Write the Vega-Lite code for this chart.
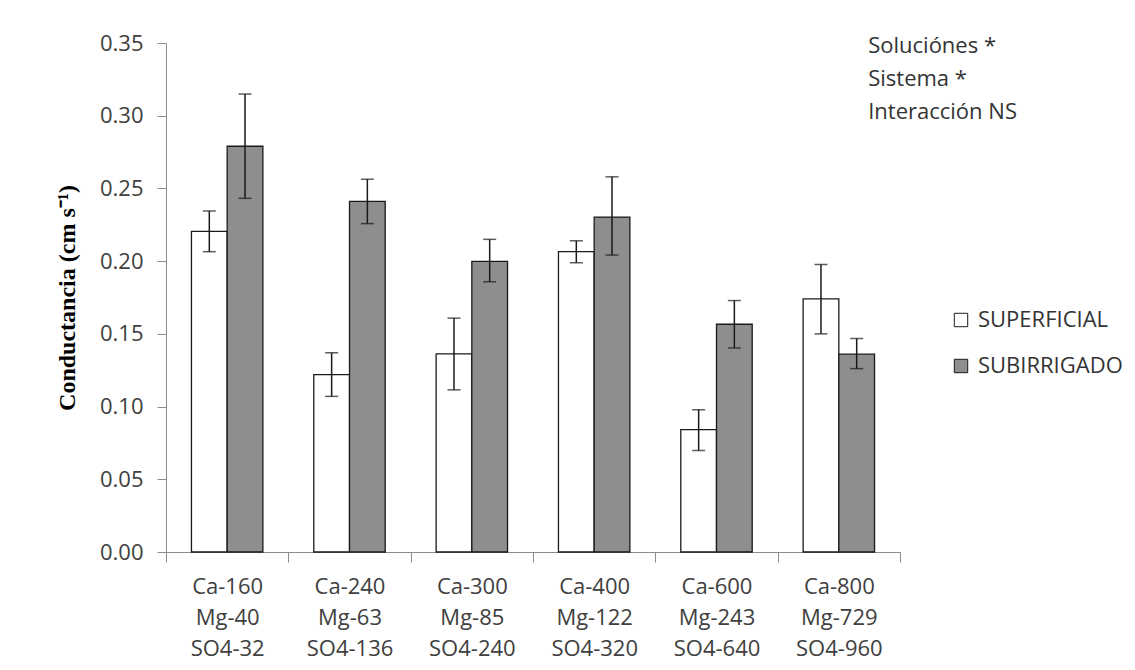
{
  "$schema": "https://vega.github.io/schema/vega-lite/v6.json",
  "autosize": {"type": "none"},
  "padding": {"left": 166, "top": 43, "right": 235, "bottom": 118},
  "width": 734,
  "height": 509,
  "background": "white",
  "config": {"view": {"stroke": null}, "font": "Open Sans"},
  "data": {
    "values": [
      {"solucion": "Ca-160|Mg-40|SO4-32", "sistema": "SUPERFICIAL", "valor": 0.2205, "min": 0.2065, "max": 0.2345},
      {"solucion": "Ca-160|Mg-40|SO4-32", "sistema": "SUBIRRIGADO", "valor": 0.279, "min": 0.2432, "max": 0.3149},
      {"solucion": "Ca-240|Mg-63|SO4-136", "sistema": "SUPERFICIAL", "valor": 0.122, "min": 0.107, "max": 0.137},
      {"solucion": "Ca-240|Mg-63|SO4-136", "sistema": "SUBIRRIGADO", "valor": 0.2411, "min": 0.2258, "max": 0.2563},
      {"solucion": "Ca-300|Mg-85|SO4-240", "sistema": "SUPERFICIAL", "valor": 0.1362, "min": 0.1115, "max": 0.1608},
      {"solucion": "Ca-300|Mg-85|SO4-240", "sistema": "SUBIRRIGADO", "valor": 0.1998, "min": 0.1858, "max": 0.215},
      {"solucion": "Ca-400|Mg-122|SO4-320", "sistema": "SUPERFICIAL", "valor": 0.2065, "min": 0.1989, "max": 0.214},
      {"solucion": "Ca-400|Mg-122|SO4-320", "sistema": "SUBIRRIGADO", "valor": 0.2303, "min": 0.2042, "max": 0.258},
      {"solucion": "Ca-600|Mg-243|SO4-640", "sistema": "SUPERFICIAL", "valor": 0.0841, "min": 0.0698, "max": 0.0978},
      {"solucion": "Ca-600|Mg-243|SO4-640", "sistema": "SUBIRRIGADO", "valor": 0.1566, "min": 0.1403, "max": 0.1729},
      {"solucion": "Ca-800|Mg-729|SO4-960", "sistema": "SUPERFICIAL", "valor": 0.1741, "min": 0.15, "max": 0.1977},
      {"solucion": "Ca-800|Mg-729|SO4-960", "sistema": "SUBIRRIGADO", "valor": 0.136, "min": 0.1261, "max": 0.1468}
    ]
  },
  "encoding": {
    "x": {
      "field": "solucion", "type": "nominal", "sort": null,
      "scale": {"paddingInner": 0, "paddingOuter": 0},
      "axis": {
        "title": null, "labelAngle": 0,
        "labelExpr": "split(datum.label, '|')",
        "labelFontSize": 22, "labelLineHeight": 31, "labelColor": "#404040",
        "tickBand": "extent", "tickSize": 10,
        "domainColor": "#8c8c8c", "tickColor": "#8c8c8c", "labelPadding": 14
      }
    }
  },
  "layer": [
    {
      "mark": {"type": "bar", "stroke": "#1a1a1a", "strokeWidth": 1.3},
      "encoding": {
        "xOffset": {"field": "sistema", "type": "nominal", "sort": ["SUPERFICIAL", "SUBIRRIGADO"], "scale": {"paddingInner": 0, "paddingOuter": 0.713}},
        "y": {
          "field": "valor", "type": "quantitative",
          "scale": {"domain": [0, 0.35], "nice": false},
          "axis": {
            "values": [0, 0.05, 0.1, 0.15, 0.2, 0.25, 0.3, 0.35],
            "format": ".2f", "grid": false,
            "domainColor": "#8c8c8c", "tickColor": "#8c8c8c", "tickSize": 9,
            "labelFontSize": 22, "labelColor": "#404040", "labelPadding": 14,
            "title": "Conductancia (cm s⁻¹)",
            "titleFont": "Liberation Serif", "titleFontSize": 24, "titleFontWeight": "bold",
            "titleColor": "#000000", "titlePadding": 20
          }
        },
        "fill": {
          "field": "sistema", "type": "nominal",
          "scale": {"domain": ["SUPERFICIAL", "SUBIRRIGADO"], "range": ["#ffffff", "#8e8e8e"]},
          "legend": {
            "title": null, "orient": "none", "legendX": 784, "legendY": 266, "padding": 0,
            "symbolType": "square", "symbolSize": 180,
            "symbolStrokeColor": "#1a1a1a", "symbolStrokeWidth": 1,
            "labelFontSize": 22, "labelColor": "#333333", "labelOffset": 6, "rowPadding": 24
          }
        }
      }
    },
    {
      "mark": {"type": "rule", "color": "#1a1a1a", "strokeWidth": 1.5},
      "encoding": {
        "xOffset": {"field": "sistema", "type": "nominal", "sort": ["SUPERFICIAL", "SUBIRRIGADO"]},
        "y": {"field": "min", "type": "quantitative"},
        "y2": {"field": "max"}
      }
    },
    {
      "mark": {"type": "tick", "color": "#1a1a1a", "thickness": 1.5, "size": 13},
      "encoding": {
        "xOffset": {"field": "sistema", "type": "nominal", "sort": ["SUPERFICIAL", "SUBIRRIGADO"]},
        "y": {"field": "min", "type": "quantitative"}
      }
    },
    {
      "mark": {"type": "tick", "color": "#1a1a1a", "thickness": 1.5, "size": 13},
      "encoding": {
        "xOffset": {"field": "sistema", "type": "nominal", "sort": ["SUPERFICIAL", "SUBIRRIGADO"]},
        "y": {"field": "max", "type": "quantitative"}
      }
    },
    {
      "data": {"values": [{}]},
      "mark": {
        "type": "text", "text": ["Soluciónes *", "Sistema *", "Interacción NS"],
        "align": "left", "baseline": "alphabetic", "fontSize": 22, "lineHeight": 33, "color": "#333333"
      },
      "encoding": {
        "x": {"datum": "Ca-800|Mg-729|SO4-960", "bandPosition": 0.74},
        "y": {"datum": 0.343, "type": "quantitative"}
      }
    }
  ]
}
